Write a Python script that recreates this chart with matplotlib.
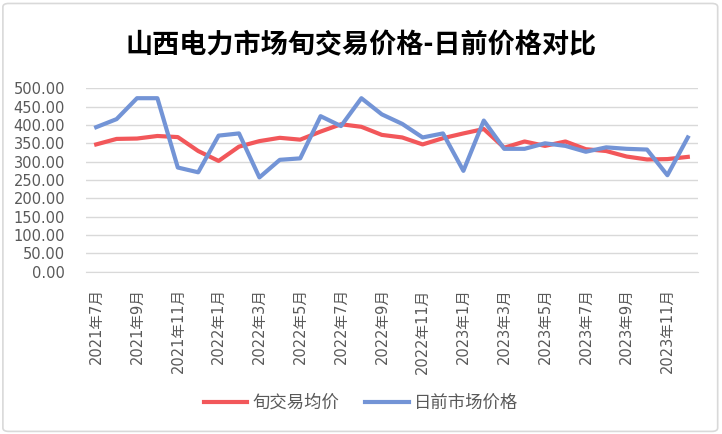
import matplotlib.pyplot as plt
from matplotlib.patches import FancyBboxPatch

plt.rcParams['font.family'] = ['Noto Sans CJK SC', 'DejaVu Sans']

months = ['2021年7月', '2021年8月', '2021年9月', '2021年10月', '2021年11月', '2021年12月',
          '2022年1月', '2022年2月', '2022年3月', '2022年4月', '2022年5月', '2022年6月',
          '2022年7月', '2022年8月', '2022年9月', '2022年10月', '2022年11月', '2022年12月',
          '2023年1月', '2023年2月', '2023年3月', '2023年4月', '2023年5月', '2023年6月',
          '2023年7月', '2023年8月', '2023年9月', '2023年10月', '2023年11月', '2023年12月']
xun_avg = [347, 362, 363, 370, 367, 329, 302, 341, 356, 365, 360, 382, 402, 395, 373,
           366, 347, 364, 377, 389, 338, 355, 343, 355, 334, 329, 314, 306, 307, 313]
day_ahead = [394, 416, 473, 473, 284, 271, 371, 377, 257, 305, 309, 424, 397, 473, 429,
             403, 366, 377, 275, 412, 335, 335, 350, 343, 327, 339, 335, 333, 263, 366]

fig = plt.figure(figsize=(7.22, 4.34), dpi=100)
fig.patches.append(FancyBboxPatch((0.004, 0.006), 0.99, 0.986, boxstyle='round,pad=0,rounding_size=0.008',
                                  transform=fig.transFigure, facecolor='white',
                                  edgecolor='#d9d9d9', linewidth=1.2, zorder=-1))

ax = fig.add_axes([86 / 722, 1 - 271.7 / 434, 612 / 722, 183.4 / 434])
x = list(range(len(months)))
ax.plot(x, xun_avg, color='#f2575a', lw=3, solid_joinstyle='round', label='旬交易均价', zorder=3)
ax.plot(x, day_ahead, color='#7394d6', lw=3, solid_joinstyle='round', label='日前市场价格', zorder=4)

tick_font = ['DejaVu Sans', 'Noto Sans CJK SC']
ax.set_xlim(-0.5, len(months) - 0.5)
ax.set_ylim(0, 500)
ax.set_yticks(range(0, 501, 50))
ax.set_yticklabels([f'{v:.2f}' for v in range(0, 501, 50)], fontsize=10.5, color='#595959',
                   family=tick_font)
ax.set_xticks(x[::2])
ax.set_xticklabels(months[::2], rotation=90, fontsize=10.5, color='#595959', va='top',
                   family=tick_font)
ax.tick_params(length=0, pad=12)
ax.tick_params(axis='y', pad=15)
ax.grid(axis='y', color='#d9d9d9', lw=1)
for s in ['top', 'right', 'left']:
    ax.spines[s].set_visible(False)
ax.spines['bottom'].set_color('#d9d9d9')

fig.text(0.5, 1 - 45 / 434, '山西电力市场旬交易价格-日前价格对比', ha='center', va='center',
         fontsize=19.5, fontweight='bold', color='black')
fig.legend(loc='center', bbox_to_anchor=(0.5, 1 - 403 / 434), ncol=2, frameon=False,
           prop={'size': 12.5}, labelcolor='#595959', handlelength=2.5, handletextpad=0.3,
           columnspacing=1.5)

fig.savefig('out.png', dpi=100)
